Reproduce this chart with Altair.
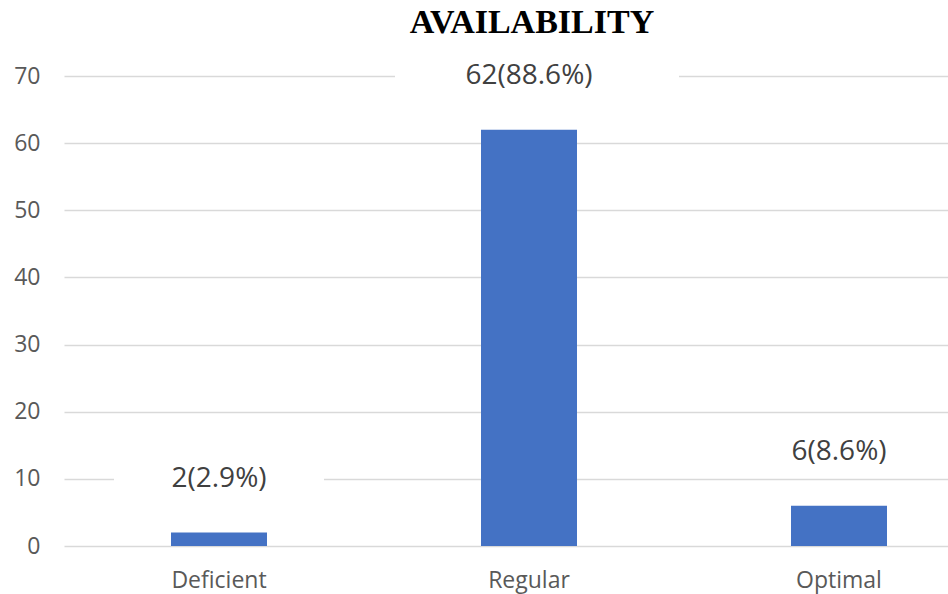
import altair as alt
import pandas as pd

categories = ["Deficient", "Regular", "Optimal"]
counts = [2, 62, 6]
labels = ["2(2.9%)", "62(88.6%)", "6(8.6%)"]
y_ticks = [0, 10, 20, 30, 40, 50, 60, 70]

df = pd.DataFrame({"category": categories, "count": counts, "label": labels})

FONT = "Open Sans"
x_enc = alt.X("category:N", sort=categories,
              scale=alt.Scale(range=[0, 930], paddingInner=0.69, paddingOuter=0.345),
              axis=alt.Axis(title=None, labelAngle=0, domain=False, ticks=False, grid=False,
                            labelFont=FONT, labelFontSize=23, labelColor="#595959",
                            labelPadding=23))
y_scale = alt.Scale(domain=[0, 70], nice=False)

base = alt.Chart(df)

bars = base.mark_bar(color="#4472C4", width=96).encode(
    x=x_enc,
    y=alt.Y("count:Q", scale=y_scale,
            axis=alt.Axis(title=None, values=y_ticks, domain=False, ticks=False,
                          gridColor="#d9d9d9", gridWidth=1.5,
                          labelFont=FONT, labelFontSize=23, labelColor="#595959",
                          labelPadding=24)),
)

box_wide = base.transform_filter(alt.datum.category == "Regular").mark_bar(
    color="white", width=284, xOffset=8, yOffset=-77, y2Offset=-33
).encode(x=alt.X("category:N", sort=categories), y=alt.Y("count:Q", scale=y_scale), y2="count:Q")

box_narrow = base.transform_filter(alt.datum.category != "Regular").mark_bar(
    color="white", width=210, yOffset=-77, y2Offset=-33
).encode(x=alt.X("category:N", sort=categories), y=alt.Y("count:Q", scale=y_scale), y2="count:Q")

text = base.mark_text(font=FONT, fontSize=28, color="#404040", baseline="middle",
                      dy=-54).encode(
    x=alt.X("category:N", sort=categories),
    y=alt.Y("count:Q", scale=y_scale),
    text="label:N",
)

chart = alt.layer(bars, box_wide, box_narrow, text).properties(
    width=884,
    height=470,
    padding={"left": 64, "top": 76, "right": 0, "bottom": 48},
    autosize=alt.AutoSizeParams(type="none"),
    title=alt.TitleParams("AVAILABILITY", font="Liberation Serif", fontSize=34,
                          fontWeight="bold", color="#000000", anchor="middle",
                          frame="group", baseline="alphabetic", offset=0, dy=14, dx=26),
).configure(background="white").configure_view(stroke=None)

chart.save("out.html", embed_options={"renderer": "svg", "actions": False})
